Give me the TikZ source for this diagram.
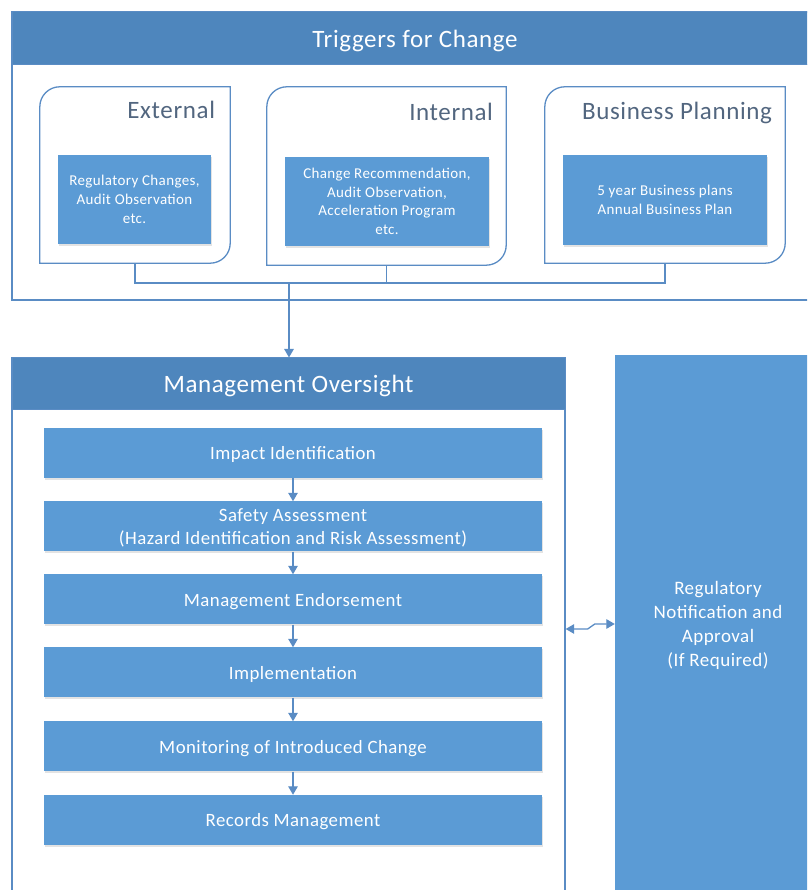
\documentclass[tikz,border=0pt]{standalone}
\usepackage{fontspec}
\setmainfont{Carlito}[LetterSpace=2.5]
\usetikzlibrary{arrows.meta,shadows}
\definecolor{boxblue}{HTML}{5B9BD5}
\definecolor{headblue}{HTML}{4E86BD}
\definecolor{lineblue}{HTML}{5A8CC4}
\definecolor{labelgray}{HTML}{52667F}
\begin{document}
\begin{tikzpicture}[x=1pt,y=1pt,
  frame/.style={draw=lineblue, line width=1.3pt, inner sep=0pt},
  header/.style={fill=headblue, draw=lineblue, line width=1pt, inner sep=0pt,
    text=white, text depth=0pt, font=\fontsize{25}{29}\selectfont},
  group/.style={inner sep=0pt},
  filled/.style={fill=boxblue, text=white, inner sep=0pt,
    drop shadow={opacity=0.22, shadow xshift=1.3pt, shadow yshift=-1.6pt}},
  smalltxt/.style={font=\fontsize{15}{18.7}\selectfont, align=center},
  steptxt/.style={font=\fontsize{18.8}{23}\selectfont, align=center, text depth=0pt},
  grouplabel/.style={text=labelgray, font=\fontsize{25}{29}\selectfont,
    anchor=mid east, inner sep=0pt},
  link/.style={draw=lineblue, line width=1.3pt},
  tip/.tip={Triangle[width=9.5pt,length=8.5pt]},
  flow/.style={link, -tip},
]
\useasboundingbox (0,0) rectangle (807,890);
\clip (0,0) rectangle (807,890);

% ---- Triggers for Change ----
\node[frame, minimum width=806pt, minimum height=288pt] (trig) at (415,734) {};
\node[header, minimum width=806pt, minimum height=53pt] (trighead) at (415,851.5) {Triggers for Change};

\node[group, minimum width=190pt, minimum height=176pt] (ext) at (135,715) {};
\node[group, minimum width=239pt, minimum height=178pt] (int) at (386.5,714) {};
\node[group, minimum width=240pt, minimum height=176pt] (bp)  at (665,715) {};

% group outlines: rounded top-left and bottom-right corners
\foreach \g in {ext,int,bp}{
  \draw[link] (\g.west) -- ([yshift=-20pt]\g.north west)
    arc[start angle=180, end angle=90, radius=20pt]
    -- (\g.north east) -- ([yshift=20pt]\g.south east)
    arc[start angle=0, end angle=-90, radius=20pt]
    -- (\g.south west) -- cycle;
}

\node[grouplabel] (extlab) at ([xshift=-15pt,yshift=-29pt]ext.north east) {External};
\node[grouplabel] (intlab) at ([xshift=-13pt,yshift=-31pt]int.north east) {Internal};
\node[grouplabel] (bplab)  at ([xshift=-13pt,yshift=-30pt]bp.north east) {Business Planning};

\node[filled, smalltxt, minimum width=153pt, minimum height=89pt] (extin) at (134.5,690.5)
  {Regulatory Changes,\\Audit Observation\\etc.};
\node[filled, smalltxt, minimum width=204pt, minimum height=89pt] (intin) at (387,688.5)
  {Change Recommendation,\\Audit Observation,\\Acceleration Program\\etc.};
\node[filled, smalltxt, minimum width=204pt, minimum height=90pt] (bpin) at (665,690)
  {5 year Business plans\\Annual Business Plan};

% ---- Management Oversight ----
\node[frame, minimum width=553pt, minimum height=542pt] (mo) at (288.5,261) {};
\node[header, minimum width=553pt, minimum height=52pt] (mohead) at (288.5,506) {Management Oversight};

\node[filled, steptxt, minimum width=498pt, minimum height=50pt] (s1) at (293,437) {Impact Identification};
\node[filled, steptxt, minimum width=498pt, minimum height=50pt] (s2) at (293,363.5)
  {Safety Assessment\\(Hazard Identification and Risk Assessment)};
\node[filled, steptxt, minimum width=498pt, minimum height=50pt] (s3) at (293,290.5) {Management Endorsement};
\node[filled, steptxt, minimum width=498pt, minimum height=50pt] (s4) at (293,217.5) {Implementation};
\node[filled, steptxt, minimum width=498pt, minimum height=50pt] (s5) at (293,143.5) {Monitoring of Introduced Change};
\node[filled, steptxt, minimum width=498pt, minimum height=50pt] (s6) at (293,70) {Records Management};

% ---- Regulatory box ----
\node[fill=boxblue, text=white, inner sep=0pt, steptxt, font=\fontsize{19}{24}\selectfont,
  minimum width=206pt, minimum height=538pt] (reg) at (718,266)
  {Regulatory\\Notification and\\Approval\\(If Required)};

% ---- connectors ----
\coordinate (join) at (289,607);
\draw[link] (ext.south) -- (ext.south |- join) -- (bp.south |- join) -- (bp.south);
\draw[link] (int.south) -- (int.south |- join);
\draw[flow] (join) -- (join |- mohead.north);

\foreach \a/\b in {s1/s2,s2/s3,s3/s4,s4/s5,s5/s6}
  \draw[flow] (\a.south) -- (\b.north);

\draw[link, tip-tip] (mo.east) -- ++(22,0) -- ([xshift=-20pt]reg.west) -- (reg.west);
\end{tikzpicture}
\end{document}
